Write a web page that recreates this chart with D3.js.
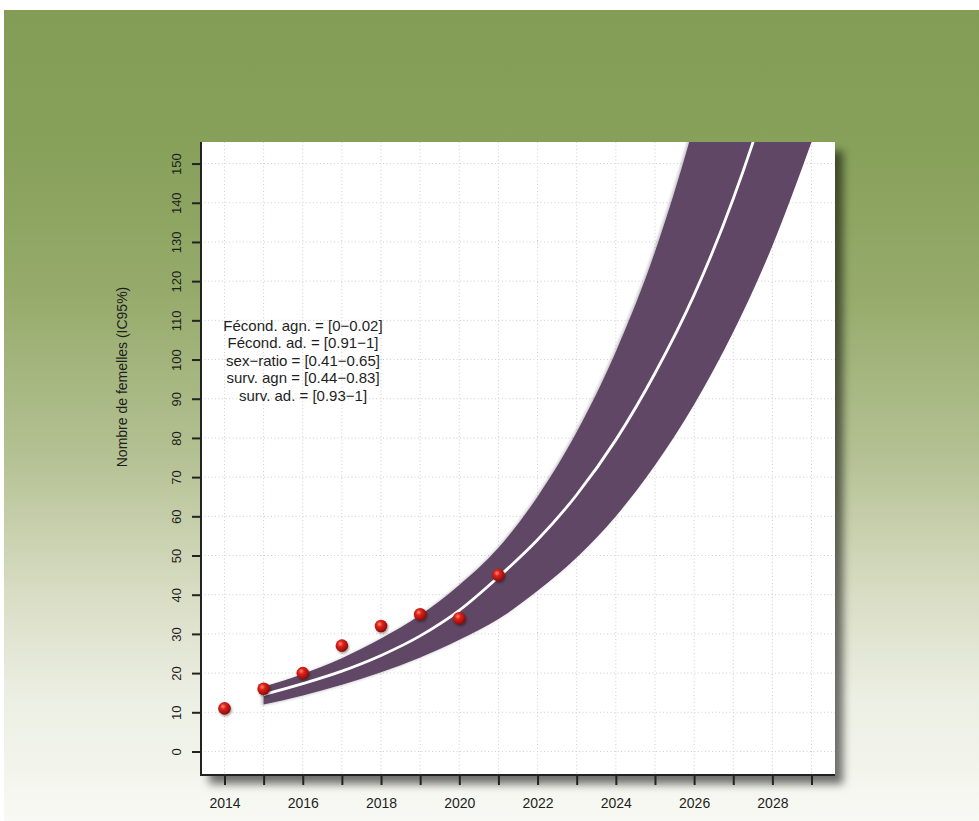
<!DOCTYPE html>
<head>
  <meta charset="utf-8">
  <script src="https://d3js.org/d3.v7.min.js"></script>
  <style>
    body { margin:0; background:#fff; }
    text { font-family: 'Liberation Sans', Arial, Helvetica, sans-serif; fill: #1e1e1e; }
    .grid-line { stroke: #cfcfcf; stroke-width: 1; stroke-dasharray: 1,2.5; }
    .axis line { stroke: #222; stroke-width: 2; }
    .axis path { display: none; }
    .y-axis text { font-size: 13px; }
    .x-axis text { font-size: 14px; }
    .legend text { font-size: 15px; }
  </style>
</head>
<body>
<script>
  // observed counts
  var obsYears = [2014, 2015, 2016, 2017, 2018, 2019, 2020, 2021];
  var obsCounts = [11, 16, 20, 27, 32, 35, 34, 45];

  // projection (median and 95% interval)
  var projYears = [2015, 2016, 2017, 2018, 2019, 2020, 2021, 2022, 2023, 2024, 2025, 2026, 2027, 2028, 2029];
  var projMedian = [14.5, 17.3, 20.5, 24.5, 29.5, 36, 44.5, 54, 65.5, 79.5, 96.5, 116.5, 141, 171, 207];
  var projLower  = [12, 14.3, 17, 20.2, 24, 28.5, 33.8, 41, 49.5, 60, 73, 88.5, 107, 129, 155.5];
  var projUpper  = [16.5, 19.8, 23.8, 28.8, 34.8, 42.5, 52, 65, 81.5, 102, 127.5, 160, 200, 250, 313];

  var xTicks = d3.range(2014, 2030);
  var yTicks = d3.range(0, 151, 10);

  var legendLines = [
    "Fécond. agn. = [0\u22120.02]",
    "Fécond. ad. = [0.91\u22121]",
    "sex\u2212ratio = [0.41\u22120.65]",
    "surv. agn = [0.44\u22120.83]",
    "surv. ad. = [0.93\u22121]"
  ];
  var yLabel = "Nombre de femelles (IC95%)";

  var W = 979, H = 821;
  var panel = {left: 201, right: 835, top: 142, bottom: 775};

  var svg = d3.select("body").append("svg")
      .attr("width", W)
      .attr("height", H);

  var defs = svg.append("defs");

  var bg = defs.append("linearGradient")
      .attr("id", "bg")
      .attr("x1", 0).attr("y1", 0).attr("x2", 0).attr("y2", 1);
  [[0, "#849d56"], [0.17, "#87a05a"], [0.35, "#96ab6b"], [0.55, "#b4c193"],
   [0.72, "#d9ddc4"], [0.85, "#ecefe3"], [1, "#f8f9f4"]].forEach(function(s) {
    bg.append("stop").attr("offset", s[0]).attr("stop-color", s[1]);
  });

  var ball = defs.append("radialGradient")
      .attr("id", "ball")
      .attr("cx", "38%").attr("cy", "35%").attr("r", "65%");
  ball.append("stop").attr("offset", 0).attr("stop-color", "#ff8a78");
  ball.append("stop").attr("offset", 0.35).attr("stop-color", "#e0221a");
  ball.append("stop").attr("offset", 1).attr("stop-color", "#8a0c07");

  var sh = defs.append("filter").attr("id", "panelShadow")
      .attr("x", "-5%").attr("y", "-5%").attr("width", "115%").attr("height", "115%");
  sh.append("feDropShadow").attr("dx", 8).attr("dy", 9).attr("stdDeviation", 4.5)
      .attr("flood-color", "#000").attr("flood-opacity", 0.55);

  var ptSh = defs.append("filter").attr("id", "ptShadow")
      .attr("x", "-50%").attr("y", "-50%").attr("width", "200%").attr("height", "200%");
  ptSh.append("feDropShadow").attr("dx", 1).attr("dy", 1.5).attr("stdDeviation", 1)
      .attr("flood-color", "#000").attr("flood-opacity", 0.4);

  var bandSh = defs.append("filter").attr("id", "bandShadow")
      .attr("x", "-10%").attr("y", "-10%").attr("width", "120%").attr("height", "120%");
  bandSh.append("feDropShadow").attr("dx", -2).attr("dy", 1).attr("stdDeviation", 1.5)
      .attr("flood-color", "#000").attr("flood-opacity", 0.25);

  defs.append("clipPath").attr("id", "clip")
    .append("rect")
      .attr("x", panel.left).attr("y", panel.top)
      .attr("width", panel.right - panel.left)
      .attr("height", panel.bottom - panel.top);

  // background
  svg.append("rect")
      .attr("x", 4).attr("y", 10)
      .attr("width", W - 4).attr("height", H - 10)
      .attr("fill", "url(#bg)");

  // white panel with drop shadow
  svg.append("rect")
      .attr("x", panel.left).attr("y", panel.top)
      .attr("width", panel.right - panel.left)
      .attr("height", panel.bottom - panel.top)
      .attr("fill", "#fff")
      .attr("filter", "url(#panelShadow)");

  var x = d3.scaleLinear().domain([2013.4, 2029.6]).range([panel.left, panel.right]);
  var y = d3.scaleLinear().domain([-6, 155.5]).range([panel.bottom, panel.top]);

  // grid
  var grid = svg.append("g");
  grid.selectAll(".gv").data(xTicks).enter().append("line")
      .attr("class", "grid-line")
      .attr("x1", d => x(d)).attr("x2", d => x(d))
      .attr("y1", panel.top).attr("y2", panel.bottom);
  grid.selectAll(".gh").data(yTicks).enter().append("line")
      .attr("class", "grid-line")
      .attr("y1", d => y(d)).attr("y2", d => y(d))
      .attr("x1", panel.left).attr("x2", panel.right);

  // projection band
  var proj = projYears.map((yr, i) => ({year: yr, lo: projLower[i], med: projMedian[i], hi: projUpper[i]}));

  var area = d3.area()
      .x(d => x(d.year))
      .y0(d => y(d.lo))
      .y1(d => y(d.hi))
      .curve(d3.curveMonotoneX);

  var medLine = d3.line()
      .x(d => x(d.year))
      .y(d => y(d.med))
      .curve(d3.curveMonotoneX);

  var plot = svg.append("g").attr("clip-path", "url(#clip)");
  plot.append("path")
      .datum(proj)
      .attr("d", area)
      .attr("fill", "#5e4765")
      .attr("filter", "url(#bandShadow)");
  plot.append("path")
      .datum(proj)
      .attr("d", medLine)
      .attr("fill", "none")
      .attr("stroke", "#fff")
      .attr("stroke-width", 2.8);

  // observed points
  svg.append("g").selectAll("circle")
      .data(obsYears.map((yr, i) => ({year: yr, n: obsCounts[i]})))
      .enter().append("circle")
        .attr("cx", d => x(d.year))
        .attr("cy", d => y(d.n))
        .attr("r", 6.3)
        .attr("fill", "url(#ball)")
        .attr("filter", "url(#ptShadow)");

  // axes
  var yAxis = d3.axisLeft(y).tickValues(yTicks).tickSize(9);
  var yG = svg.append("g")
      .attr("class", "axis y-axis")
      .attr("transform", "translate(" + panel.left + ",0)")
      .call(yAxis);
  yG.selectAll(".tick text")
      .attr("transform", "rotate(-90)")
      .attr("x", 0)
      .attr("y", -20)
      .attr("dy", 0)
      .attr("text-anchor", "middle");

  var xAxis = d3.axisBottom(x).tickValues(xTicks).tickSize(10)
      .tickFormat(d => d % 2 === 0 ? d : "");
  var xG = svg.append("g")
      .attr("class", "axis x-axis")
      .attr("transform", "translate(0," + panel.bottom + ")")
      .call(xAxis);
  xG.selectAll(".tick text")
      .attr("y", 33)
      .attr("dy", 0);

  // L-shaped frame
  svg.append("path")
      .attr("d", "M" + panel.left + "," + panel.top + "V" + panel.bottom + "H" + panel.right)
      .attr("fill", "none")
      .attr("stroke", "#222")
      .attr("stroke-width", 2);

  svg.append("text")
      .attr("transform", "translate(127,377) rotate(-90)")
      .attr("text-anchor", "middle")
      .style("font-size", "14px")
      .text(yLabel);

  svg.append("g").attr("class", "legend")
    .selectAll("text")
    .data(legendLines)
    .enter().append("text")
      .attr("x", 303)
      .attr("y", (d, i) => 330.5 + i * 17.5)
      .attr("text-anchor", "middle")
      .text(d => d);
</script>
</body>
